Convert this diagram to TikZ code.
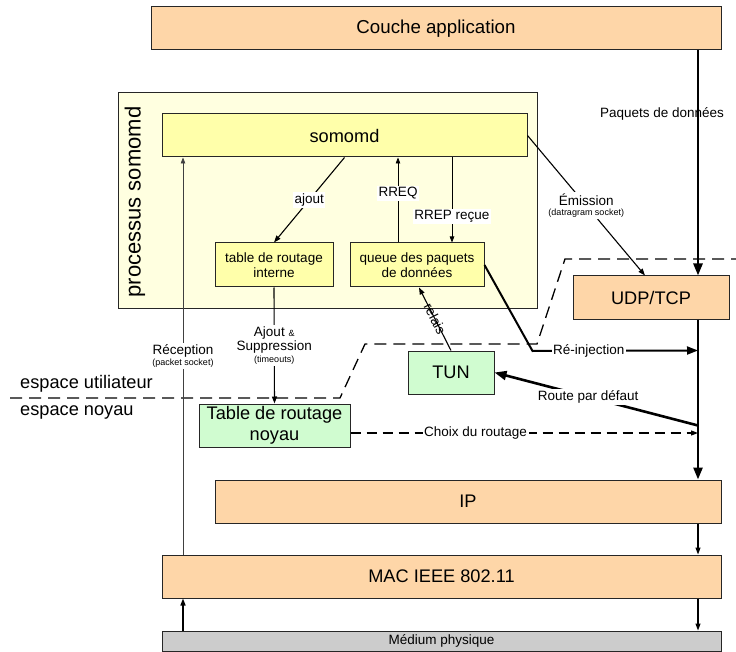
\documentclass[tikz,border=0pt]{standalone}
\usepackage{fontspec}
\setmainfont{Liberation Sans}
\usetikzlibrary{arrows.meta}

\definecolor{peach}{RGB}{254,214,168}
\definecolor{paleyel}{RGB}{255,255,224}
\definecolor{yel}{RGB}{255,255,170}
\definecolor{mint}{RGB}{208,252,208}
\definecolor{medgray}{RGB}{204,204,204}

\newcommand{\bigf}{\fontsize{18.2}{20.5}\selectfont}
\newcommand{\midf}{\fontsize{13.5}{15.5}\selectfont}
\newcommand{\tinyf}{\fontsize{9}{10}\selectfont}

\begin{document}
\begin{tikzpicture}[x=1pt,y=-1pt]
\tikzstyle{every node}+=[inner sep=0pt]
\tikzstyle{box}=[draw=black!85, line width=1pt, minimum height=43pt, align=center]
\tikzstyle{layer}=[box, fill=peach, font=\bigf]
\tikzstyle{inner}=[box, fill=yel, font=\midf, minimum height=44pt]
\tikzstyle{kern}=[box, fill=mint, font=\bigf]
\tikzstyle{lbl}=[fill=white, inner sep=1.5pt, font=\midf, align=center]
\tikzstyle{flow}=[-{Triangle[length=7pt,width=5pt]}, line width=1.1pt]
\tikzstyle{fineflow}=[-{Triangle[length=6pt,width=4.5pt]}, line width=0.7pt]
\tikzstyle{bigflow}=[-{Triangle[length=12pt,width=9pt]}, line width=2.6pt]
\tikzstyle{border}=[dash pattern=on 12pt off 7pt, line width=1.3pt]
\useasboundingbox (0,0) rectangle (736,652);

\node[layer, font=\fontsize{18.7}{21}\selectfont, minimum width=570pt] (app) at (436,28.5) {Couche application};
\node[draw=black!85, line width=1pt, fill=paleyel, minimum width=419pt, minimum height=215pt] (proc) at (327.5,200.5) {};
\node[rotate=90, font=\fontsize{22}{24}\selectfont] (proclbl) at (135,202) {processus somomd};
\node[inner, font=\bigf, minimum width=365pt, minimum height=43pt] (somomd) at (344.5,135.5) {somomd};
\node[inner, minimum width=118pt] (tabint) at (274,265) {table de routage\\interne};
\node[inner, minimum width=134pt] (queue) at (417,265) {queue des paquets\\de données};
\node[layer, minimum width=156pt] (udp) at (651,297.5) {UDP/TCP};
\node[kern, minimum width=86pt] (tun) at (451,372.5) {TUN};
\node[kern, minimum width=151pt] (tabnoy) at (274.5,425.5) {Table de routage\\noyau};
\node[layer, minimum width=506pt] (ip) at (468,501.5) {IP};
\node[layer, minimum width=559pt] (mac) at (441.5,576.5) {MAC IEEE 802.11};
\node[box, fill=medgray, font=\midf, minimum width=559pt, minimum height=20pt] (med) at (441.5,641) {Médium physique};

\node[anchor=west, font=\bigf] (user) at (20,384) {espace utiliateur};
\node[anchor=west, font=\bigf] (kernel) at (20,412) {espace noyau};
\draw[border] (10,398) -- (340,398) -- (365,344) -- (537,344) -- (565,259) -- (736,259);

\coordinate (rail) at (698,0);
\coordinate (lrail) at (183,0);
\coordinate (choix) at ([yshift=-7.5pt]tabnoy.east);

\draw[bigflow] (app.south -| rail) -- node[font=\midf, pos=0.28, xshift=-36pt] {Paquets de données} (udp.north -| rail);
\draw[flow] (somomd.south) -- node[lbl] {ajout} (tabint.north);
\draw[fineflow] ([xshift=-19pt]queue.north) -- node[lbl, pos=0.58] {RREQ} ([xshift=-19pt]queue.north |- somomd.south);
\draw[fineflow] ([xshift=35pt]queue.north |- somomd.south) -- node[lbl, pos=0.69] {RREP reçue} ([xshift=35pt]queue.north);
\draw[flow] (somomd.east) -- node[lbl] {Émission\\[-5pt]{\tinyf (datragram socket)}} ([xshift=-6pt]udp.north);
\draw[flow] (tabint.south) -- node[lbl, pos=0.5] {Ajout {\tinyf\&}\\[-1pt]Suppression\\[-4pt]{\tinyf (timeouts)}} (tabnoy.north);
\draw[fineflow, draw=black!75] (mac.north -| lrail) -- node[lbl, pos=0.5] {Réception\\[-5pt]{\tinyf (packet socket)}} (somomd.south -| lrail);
\draw[flow, line width=1.4pt] (med.north -| lrail) -- (mac.south -| lrail);
\draw[flow] (tun.north) -- node[font=\midf, sloped] {relais} ([xshift=2pt]queue.south);
\draw[-{Triangle[length=11pt,width=8pt]}, line width=2pt] (queue.east) -- ++(48,86) -- node[lbl, pos=0.34] {Ré-injection} (rail |- tun.north);
\draw[bigflow] (rail |- tabnoy.center) -- node[lbl, pos=0.54] {Route par défaut} (tun.east);
\draw[flow, dash pattern=on 10pt off 6pt] (choix) -- node[lbl, pos=0.36] {Choix du routage} (choix -| rail);
\draw[bigflow] (udp.south -| rail) -- (ip.north -| rail);
\draw[flow] (ip.south -| rail) -- (mac.north -| rail);
\draw[flow] (mac.south -| rail) -- (med.north -| rail);
\end{tikzpicture}
\end{document}
